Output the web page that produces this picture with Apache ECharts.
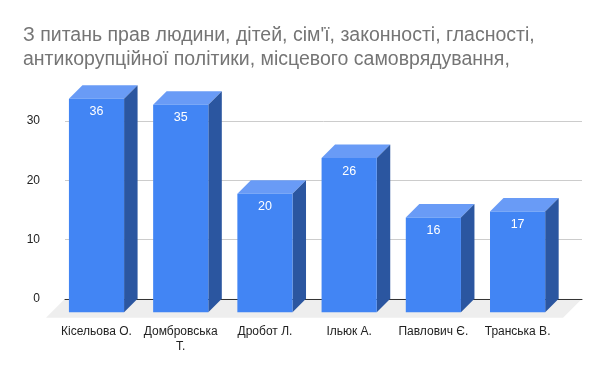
<!DOCTYPE html>
<html>
<head>
<meta charset="utf-8">
<script src="https://cdn.jsdelivr.net/npm/echarts@6/dist/echarts.min.js"></script>
<style>html,body{margin:0;padding:0;background:#fff}#c{width:600px;height:371px}</style>
</head>
<body>
<div id="c"></div>
<script>
const titleText = 'З питань прав людини, дітей, сім\'ї, законності, гласності,\nантикорупційної політики, місцевого самоврядування,';
const categories = ['Кісельова О.', 'Домбровська\nТ.', 'Дробот Л.', 'Ільюк А.', 'Павлович Є.', 'Транська В.'];
const values = [36, 35, 20, 26, 16, 17];
const yTicks = [0, 10, 20, 30];

const DEPTH = 13.5;      // bar depth offset (px)
const FLOOR = 19;        // floor depth offset (px)
const FONT = 'Arial, "Liberation Sans", sans-serif';

const chart = echarts.init(document.getElementById('c'), null, {renderer: 'canvas'});

const option = {
  animation: false,
  backgroundColor: '#fff',
  title: {
    text: titleText,
    left: 18, top: 19,
    textStyle: {fontFamily: FONT, fontSize: 19.5, fontWeight: 'normal', color: '#757575', lineHeight: 24}
  },
  grid: [
    {left: 65, right: 18, top: 61.6, bottom: 72.2},       // back plane
    {left: 54.4, right: 40.3, top: 75.1, bottom: 58.7}    // front plane
  ],
  xAxis: [
    {gridIndex: 0, type: 'value', min: 0, max: 1, show: true,
     axisLine: {show: true, lineStyle: {color: '#333', width: 1}},
     axisTick: {show: false}, axisLabel: {show: false}, splitLine: {show: false}},
    {gridIndex: 1, type: 'category', data: categories,
     axisLine: {show: false}, axisTick: {show: false},
     axisLabel: {color: '#222', fontFamily: FONT, fontSize: 12, margin: 12, lineHeight: 15, interval: 0}}
  ],
  yAxis: [
    {gridIndex: 0, type: 'value', min: 0, max: 40, interval: 10,
     axisLine: {show: false}, axisTick: {show: false},
     axisLabel: {color: '#222', fontFamily: FONT, fontSize: 12, margin: 25, showMaxLabel: false,
       formatter: v => (yTicks.indexOf(v) >= 0 ? String(v) : '')},
     splitLine: {show: true, showMaxLine: false, showMinLine: false, lineStyle: {color: '#cccccc', width: 1}}},
    {gridIndex: 1, type: 'value', min: 0, max: 40, show: false}
  ],
  series: [
    {
      type: 'custom', xAxisIndex: 0, yAxisIndex: 0, z: -1, silent: true,
      data: [[0, 0]],
      renderItem: function (params, api) {
        const p0 = api.coord([0, 0]);
        const p1 = api.coord([1, 0]);
        return {
          type: 'polygon',
          shape: {points: [[p0[0], p0[1]], [p1[0], p1[1]], [p1[0] - FLOOR, p1[1] + FLOOR], [p0[0] - FLOOR, p0[1] + FLOOR]]},
          style: {fill: '#eeeeee'}
        };
      }
    },
    {
      type: 'custom', xAxisIndex: 1, yAxisIndex: 1, z: 2,
      data: values.map((v, i) => [i, v]),
      renderItem: function (params, api) {
        const idx = api.value(0), val = api.value(1);
        const base = api.coord([idx, 0]);
        const top = api.coord([idx, val]);
        const bw = api.size([1, 0])[0] * 0.655;
        const x0 = base[0] - bw / 2, x1 = base[0] + bw / 2;
        const yb = base[1], yt = top[1], d = DEPTH;
        return {
          type: 'group',
          children: [
            {type: 'polygon', shape: {points: [[x0, yt], [x1, yt], [x1 + d, yt - d], [x0 + d, yt - d]]}, style: {fill: '#699bf6'}},
            {type: 'polygon', shape: {points: [[x1, yt], [x1 + d, yt - d], [x1 + d, yb - d], [x1, yb]]}, style: {fill: '#2b56a0'}},
            {type: 'rect', shape: {x: x0, y: yt, width: bw, height: yb - yt}, style: {fill: '#4285f4'}},
            {type: 'text', x: base[0], y: yt + 13,
             style: {text: String(val), fill: '#ffffff', font: '12.5px ' + FONT, align: 'center', verticalAlign: 'middle'}}
          ]
        };
      }
    }
  ]
};
chart.setOption(option);
</script>
</body>
</html>
